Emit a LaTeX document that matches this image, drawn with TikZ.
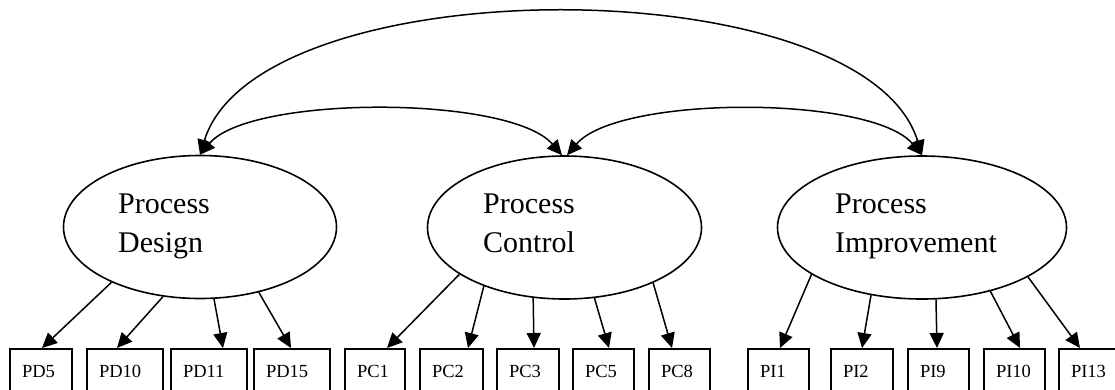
\documentclass[tikz,border=0pt]{standalone}
\usepackage{fontspec}
\setmainfont{Liberation Serif}
\usetikzlibrary{shapes.geometric,arrows.meta}
\begin{document}
\begin{tikzpicture}[x=1pt,y=-1pt,
  latent/.style={draw, ellipse, line width=1.6pt, inner sep=0pt,
    minimum width=#1, minimum height=143pt},
  lbl/.style={anchor=base west, inner sep=0pt, align=left,
    font=\fontsize{30}{39}\selectfont},
  item/.style={draw, line width=2pt, anchor=north west, inner xsep=12pt,
    inner ysep=0pt, text height=28pt, text depth=40pt, align=left,
    font=\fontsize{18.5}{20}\selectfont,
    /utils/exec={\pgfmathsetlengthmacro\itemtw{#1-24}}, text width=\itemtw},
  load/.style={-{Triangle[length=15pt,width=14pt]}, line width=1.5pt},
  cov/.style={{Triangle[length=15pt,width=14pt]}-{Triangle[length=15pt,width=14pt]},
    line width=1.5pt},
]
\useasboundingbox (0,0) rectangle (1115,389);
\clip (0,0) rectangle (1115,389);

% latent factors
\node[latent=273pt] (pd) at (200,227) {};
\node[latent=274pt] (pc) at (564.5,227.5) {};
\node[latent=289pt] (pi) at (922,227.5) {};
% the base anchor of a two-line label sits on its last line
\node[lbl] (pdt) at (118,252) {Process\\Design};
\node[lbl] (pct) at (483,252) {Process\\Control};
\node[lbl] (pit) at (835,252) {Process\\Improvement};

% correlations between factors
\draw[cov] (pd.north) .. controls (258,-34) and (864,-34) .. (pi.north);
\draw[cov] (pd.north) .. controls (250,95) and (510,95) .. (pc.92);
\draw[cov] (pc.88) .. controls (618,95) and (872,95) .. (pi.north);

% indicators
\node[item=62pt] (pd5)  at (9,348)   {PD5};
\node[item=76pt] (pd10) at (86,348)  {PD10};
\node[item=76pt] (pd11) at (170,348) {PD11};
\node[item=76pt] (pd15) at (253,348) {PD15};
\node[item=60pt] (pc1)  at (344,348) {PC1};
\node[item=63pt] (pc2)  at (419,348) {PC2};
\node[item=62pt] (pc3)  at (496,348) {PC3};
\node[item=61pt] (pc5)  at (572,348) {PC5};
\node[item=61pt] (pc8)  at (648,348) {PC8};
\node[item=61pt] (pi1)  at (747,348) {PI1};
\node[item=62pt] (pi2)  at (830,348) {PI2};
\node[item=61pt] (pi9)  at (907,348) {PI9};
\node[item=61pt] (pi10) at (983,348) {PI10};
\node[item=64pt] (pi13) at (1058,348) {PI13};

% loadings
\draw[load] (pd.212)   -- ([xshift=33pt]pd5.north west);
\draw[load] (pd.242.8) -- ([xshift=31pt]pd10.north west);
\draw[load] (pd.281.6) -- ([xshift=53pt]pd11.north west);
\draw[load] (pd.312.3) -- ([xshift=38pt]pd15.north west);

\draw[load] (pc.204.6) -- ([xshift=43pt]pc1.north west);
\draw[load] (pc.216)   -- ([xshift=49pt]pc2.north west);
\draw[load] (pc.246.7) -- ([xshift=38pt]pc3.north west);
\draw[load] (pc.293.3) -- ([xshift=37pt]pc5.north west);
\draw[load] (pc.328)   -- ([xshift=24pt]pc8.north west);

\draw[load] (pi.203.1) -- ([xshift=33pt]pi1.north west);
\draw[load] (pi.233.6) -- ([xshift=32pt]pi2.north west);
\draw[load] (pi.281.8) -- ([xshift=30pt]pi9.north west);
\draw[load] (pi.317.6) -- ([xshift=37pt]pi10.north west);
\draw[load] (pi.335.2) -- ([xshift=22pt]pi13.north west);
\end{tikzpicture}
\end{document}
